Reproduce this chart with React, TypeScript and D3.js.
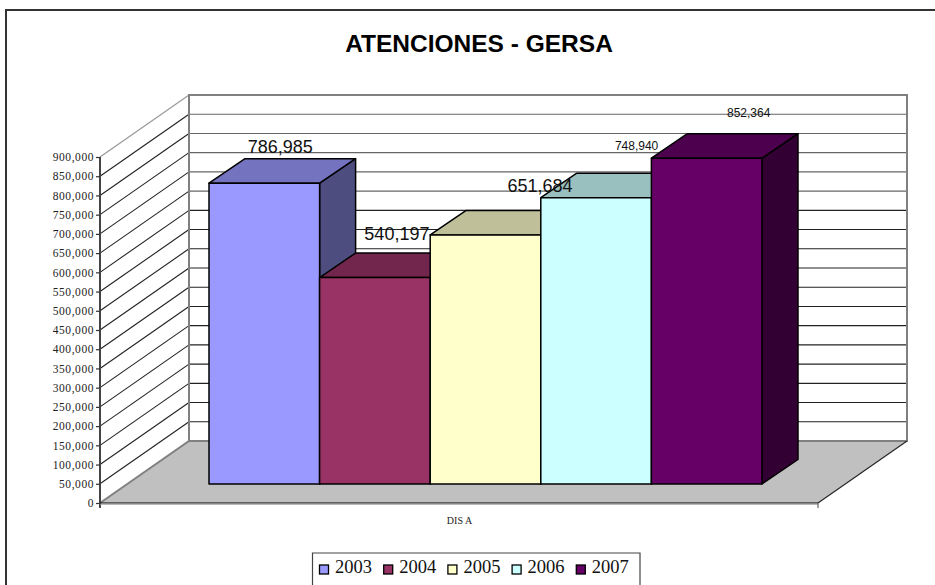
import React, { useRef, useEffect } from "react";
import { select, axisLeft, scaleLinear, scaleBand, format, color, range } from "d3";

const years = ["2003", "2004", "2005", "2006", "2007"];
const atenciones = [786985, 540197, 651684, 748940, 852364];
const barColors = ["#9999FF", "#993366", "#FFFFCC", "#CCFFFF", "#660066"];
const axisTicks = range(0, 900001, 50000);

// data labels were dragged by hand in the original, so each has its own offset
const labelDx = [16, 22, 54.5, 40.5, 42];
const labelDy = [-30, -37.6, -43, -48, -41];
const labelSize = [18, 18, 18, 12, 12];

const width = 935;
const height = 585;

// floor and wall corners
const left = 100;
const right = 818;
const floorY = 503;
const topY = 157;
const depthX = 89;
const depthY = -62;

// bars stand part way into the floor
const barBase = 484;
const barDepthX = 36;
const barDepthY = -24.5;

const yScale = scaleLinear().domain([0, 900000]).range([floorY, topY]);
const barScale = scaleLinear().domain([0, 900000]).range([barBase, barBase - 344]);
const xScale = scaleBand().domain(years).range([209, 762]);

const shade = (c: string, k: number) => {
  const rgb = color(c)!.rgb();
  return `rgb(${rgb.r * k},${rgb.g * k},${rgb.b * k})`;
};

const pts = (p: number[][]) => p.map((d) => d.join(",")).join(" ");

export default function App() {
  const axisRef = useRef<SVGGElement>(null);

  useEffect(() => {
    const axis = axisLeft(yScale)
      .tickValues(axisTicks)
      .tickFormat(format(","))
      .tickSize(4)
      .tickPadding(2);
    const g = select(axisRef.current!);
    g.attr("transform", `translate(${left} 0)`).call(axis as any);
    g.select(".domain").remove();
    g.selectAll(".tick line").attr("stroke", "#333").attr("stroke-width", 1.2);
    g.selectAll(".tick text")
      .attr("font-family", "Liberation Serif")
      .attr("font-size", 11.5)
      .attr("letter-spacing", 0.55)
      .attr("fill", "#222");
  }, []);

  const bw = xScale.bandwidth();

  return (
    <svg
      width={width}
      height={height}
      style={{ position: "absolute", left: 0, top: 0, background: "#fff" }}
    >
      <path d="M6,585V10H935" fill="none" stroke="#333" strokeWidth={2} />

      <text
        x={479}
        y={52}
        textAnchor="middle"
        fontFamily="Liberation Sans"
        fontWeight="bold"
        fontSize={24.5}
      >
        ATENCIONES - GERSA
      </text>

      {/* floor */}
      <polygon
        points={pts([
          [left, floorY],
          [left + depthX, floorY + depthY],
          [right + depthX, floorY + depthY],
          [right, floorY],
        ])}
        fill="#C0C0C0"
      />

      {/* gridlines, back wall and left wall */}
      {axisTicks.slice(1, -1).map((t) => (
        <g key={t} strokeWidth={1.1}>
          <line
            x1={left}
            y1={yScale(t)}
            x2={left + depthX}
            y2={yScale(t) + depthY}
            stroke="#222"
          />
          <line
            x1={left + depthX}
            y1={yScale(t) + depthY}
            x2={right + depthX}
            y2={yScale(t) + depthY}
            stroke={t >= 650000 ? "#666" : "#222"}
          />
        </g>
      ))}
      <line
        x1={left}
        y1={topY}
        x2={left + depthX}
        y2={topY + depthY}
        stroke="#999"
        strokeWidth={1.2}
      />
      <path
        d={`M${left},${floorY}L${left + depthX},${floorY + depthY}H${right + depthX}V${topY + depthY}H${left + depthX}V${floorY + depthY}`}
        fill="none"
        stroke="#808080"
        strokeWidth={2}
      />
      <line
        x1={right}
        y1={floorY}
        x2={right + depthX}
        y2={floorY + depthY}
        stroke="#222"
        strokeWidth={1.1}
      />

      {/* axis lines */}
      <line x1={left} y1={topY} x2={left} y2={floorY + 5} stroke="#444" strokeWidth={2} />
      <line x1={left} y1={floorY} x2={right} y2={floorY} stroke="#000" strokeWidth={1.2} />
      <line x1={left} y1={floorY + 1.2} x2={right} y2={floorY + 1.2} stroke="#999" strokeWidth={1} />
      <line x1={right} y1={floorY} x2={right} y2={floorY + 5} stroke="#666" strokeWidth={1.2} />
      <g ref={axisRef} />

      <text
        x={459.5}
        y={524}
        textAnchor="middle"
        fontFamily="Liberation Serif"
        fontSize={10}
        fill="#222"
      >
        DIS A
      </text>

      {/* bars, left to right so each one hides the side of the one before */}
      {years.map((year, i) => {
        const x0 = xScale(year)!;
        const x1 = x0 + bw;
        const y = barScale(atenciones[i]);
        return (
          <g key={year} stroke="#000" strokeWidth={1.5} strokeLinejoin="round">
            <polygon
              points={pts([
                [x1, y],
                [x1 + barDepthX, y + barDepthY],
                [x1 + barDepthX, barBase + barDepthY],
                [x1, barBase],
              ])}
              fill={shade(barColors[i], 0.5)}
            />
            <polygon
              points={pts([
                [x0, y],
                [x0 + barDepthX, y + barDepthY],
                [x1 + barDepthX, y + barDepthY],
                [x1, y],
              ])}
              fill={shade(barColors[i], 0.75)}
            />
            <rect x={x0} y={y} width={bw} height={barBase - y} fill={barColors[i]} />
          </g>
        );
      })}

      {years.map((year, i) => (
        <text
          key={year}
          x={xScale(year)! + bw / 2 + labelDx[i]}
          y={barScale(atenciones[i]) + labelDy[i]}
          textAnchor="middle"
          fontFamily="Liberation Sans"
          fontSize={labelSize[i]}
          fill="#111"
        >
          {format(",")(atenciones[i])}
        </text>
      ))}

      {/* legend */}
      <path d="M312.5,585V553H640V585" fill="#fff" stroke="#444" strokeWidth={1.2} />
      {years.map((year, i) => (
        <g key={year} transform={`translate(${319 + i * 64.2} 0)`}>
          <rect
            x={0.5}
            y={565}
            width={9}
            height={9}
            fill={barColors[i]}
            stroke="#000"
            strokeWidth={1.3}
          />
          <text x={16} y={573} fontFamily="Liberation Serif" fontSize={18.5} fill="#111">
            {year}
          </text>
        </g>
      ))}
    </svg>
  );
}
